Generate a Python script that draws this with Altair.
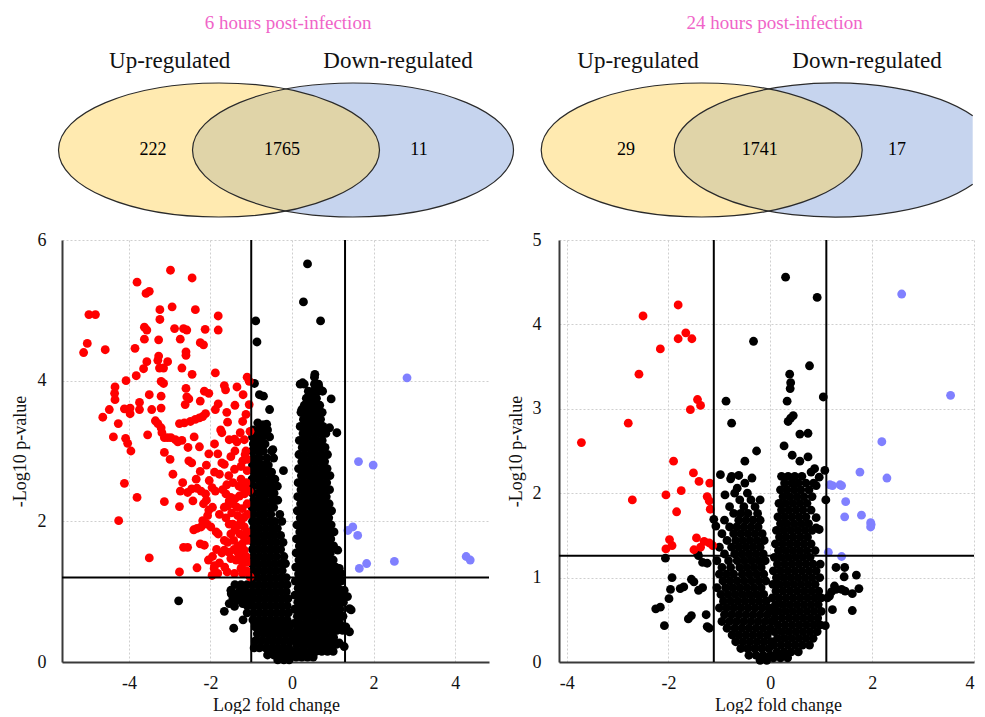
import altair as alt
import pandas as pd

FONT = "Liberation Serif"

# ---------------- Venn diagram values ----------------
TIME_TITLES = ["6 hours post-infection", "24 hours post-infection"]
SET_NAMES = ["Up-regulated", "Down-regulated"]
COUNTS_6H = ["222", "1765", "11"]      # up only, shared, down only
COUNTS_24H = ["29", "1741", "17"]

# ---------------- Volcano values: (log2 fold change, -log10 p) ----------------
RED_6H = [
    (-2.98, 5.57), (-2.45, 5.46), (-3.80, 5.40), (-3.58, 5.24), (-3.50, 5.27),
    (-4.98, 4.94), (-4.82, 4.94), (-3.24, 5.01), (-2.94, 5.05), (-2.37, 5.01), (-3.24, 4.87), (-1.81, 4.92),
    (-3.62, 4.76), (-3.56, 4.72), (-2.88, 4.74), (-2.66, 4.74), (-2.58, 4.72), (-2.13, 4.73), (-1.81, 4.72),
    (-5.02, 4.53), (-5.11, 4.40), (-4.58, 4.44), (-3.85, 4.46), (-3.62, 4.59), (-3.27, 4.58), (-2.74, 4.59),
    (-2.25, 4.54), (-2.17, 4.51), (-2.60, 4.41), (-2.60, 4.36), (-3.27, 4.35), (-3.29, 4.29), (-3.56, 4.27),
    (-3.05, 4.27), (-3.25, 4.18), (-3.15, 4.18), (-3.64, 4.17), (-2.70, 4.18), (-2.45, 4.09), (-1.88, 4.11),
    (-3.82, 4.07), (-4.07, 4.00), (-3.21, 3.99), (-3.15, 3.96), (-1.10, 4.05), (-1.05, 3.99),
    (-4.34, 3.91), (-4.35, 3.82), (-4.34, 3.73), (-2.60, 3.89), (-1.66, 3.93), (-1.63, 3.87), (-1.35, 3.91),
    (-2.15, 3.85), (-2.04, 3.82), (-3.50, 3.80), (-3.21, 3.78), (-2.58, 3.77), (-2.53, 3.74), (-3.74, 3.69),
    (-2.25, 3.71), (-1.81, 3.67), (-1.05, 3.66), (-4.48, 3.59), (-4.11, 3.60), (-3.97, 3.61), (-3.97, 3.53),
    (-3.74, 3.59), (-3.44, 3.59), (-3.21, 3.61), (-2.62, 3.66), (-1.88, 3.59),
    (-2.12, 3.53), (-2.19, 3.49), (-2.27, 3.47), (-2.37, 3.45), (-2.49, 3.42), (-2.64, 3.40), (-2.76, 3.39),
    (-1.13, 3.52), (-4.64, 3.48), (-4.26, 3.39), (-3.35, 3.43), (-3.29, 3.39), (-3.21, 3.33), (-1.58, 3.41),
    (-1.21, 3.42), (-1.03, 3.28), (-4.38, 3.20), (-4.08, 3.18), (-4.03, 3.11), (-3.95, 3.00), (-3.54, 3.23),
    (-3.19, 3.26), (-3.13, 3.19), (-3.05, 3.19), (-2.97, 3.19), (-2.86, 3.16), (-2.80, 3.13), (-2.70, 3.15),
    (-1.72, 3.26), (-1.54, 3.16), (-1.41, 3.17), (-1.35, 3.13), (-1.27, 3.26), (-1.17, 3.16),
    (-3.13, 2.98), (-2.99, 2.88), (-2.53, 2.86), (-2.46, 2.83), (-2.04, 2.96), (-1.82, 2.96), (-2.27, 3.06),
    (-1.72, 2.83), (-1.66, 2.81), (-1.13, 3.00), (-1.21, 2.86), (-1.10, 2.88),
    (-2.92, 2.67), (-2.68, 2.55), (-2.35, 2.60), (-2.25, 2.71), (-2.03, 2.58), (-1.78, 2.67), (-1.41, 2.74), (-1.10, 2.72),
    (-4.11, 2.54), (-2.74, 2.43), (-2.56, 2.41), (-2.46, 2.46), (-2.43, 2.29), (-2.33, 2.47), (-2.23, 2.43), (-2.12, 2.39),
    (-1.96, 2.48), (-1.88, 2.43), (-1.62, 2.39), (-1.50, 2.34), (-1.54, 2.29), (-1.40, 2.32), (-1.29, 2.36),
    (-1.23, 2.48), (-1.13, 2.46), (-1.17, 2.39), (-1.05, 2.43),
    (-3.80, 2.34), (-3.13, 2.28), (-2.76, 2.21), (-2.17, 2.25), (-2.04, 2.16), (-1.78, 2.10),
    (-1.66, 2.20), (-1.58, 2.22), (-1.45, 2.25), (-1.33, 2.08), (-1.17, 2.06), (-1.09, 2.10),
    (-4.25, 2.01), (-2.07, 2.08), (-2.19, 2.01), (-2.08, 1.96), (-1.99, 1.92), (-1.86, 1.85), (-1.81, 1.82),
    (-2.41, 1.88), (-2.33, 1.90), (-2.23, 1.92), (-1.54, 1.96), (-1.45, 1.96), (-1.33, 1.94), (-1.17, 1.92),
    (-1.66, 1.73), (-1.58, 1.70), (-1.43, 1.73), (-2.25, 1.68), (-2.15, 1.66), (-1.17, 1.77), (-1.09, 1.73),
    (-2.66, 1.63), (-2.56, 1.63), (-3.50, 1.48), (-1.66, 1.59), (-1.54, 1.56), (-1.33, 1.56), (-1.17, 1.59),
    (-1.78, 1.41), (-1.50, 1.47), (-1.37, 1.45), (-1.21, 1.40), (-1.09, 1.42), (-2.33, 1.34), (-1.90, 1.37),
    (-1.91, 1.33), (-2.76, 1.28), (-1.96, 1.23), (-1.82, 1.26), (-1.59, 1.28), (-1.41, 1.26), (-1.21, 1.26),
    (-1.03, 1.21),
    (-1.25, 2.60), (-1.12, 2.55), (-1.30, 2.50), (-1.45, 2.55), (-1.60, 2.52), (-1.70, 2.45), (-1.35, 2.20),
    (-1.22, 2.18), (-1.10, 2.25), (-1.48, 2.12), (-1.62, 2.05), (-1.25, 2.00), (-1.40, 1.88), (-1.28, 1.82),
    (-1.10, 1.85), (-1.50, 1.82), (-1.22, 1.68), (-1.32, 1.65), (-1.12, 1.50), (-1.25, 1.48), (-1.42, 1.60),
    (-1.72, 1.55), (-1.85, 1.60), (-1.95, 1.50), (-2.05, 1.45), (-1.65, 1.35), (-1.25, 1.33), (-1.12, 1.30),
    (-1.55, 2.65), (-1.90, 2.70), (-2.10, 2.80), (-1.25, 2.78), (-1.15, 2.95), (-1.40, 3.00), (-1.50, 2.92),
    (-1.90, 3.10), (-2.40, 3.20), (-2.55, 3.05), (-1.60, 3.55), (-1.40, 3.65), (-1.20, 3.80), (-1.75, 3.30),
    (-2.10, 2.30), (-1.95, 2.20),
]

BLUE_6H = [
    (1.37, 1.87), (1.49, 1.92), (1.61, 1.80), (1.63, 2.85), (1.99, 2.80), (1.65, 1.33),
    (1.83, 1.40), (2.51, 1.43), (2.82, 4.04), (4.27, 1.50), (4.37, 1.45),
]

BLACK_6H = [
    (0.38, 5.66), (0.28, 5.12), (0.70, 4.85), (-0.89, 4.85), (-0.86, 4.55), (-0.92, 3.96), (-0.80, 3.80),
    (-0.70, 3.78), (-0.55, 3.59), (-0.72, 3.37), (-0.62, 3.38), (-0.66, 3.24), (-0.21, 2.72), (-2.78, 0.87),
    (-1.66, 0.72), (-1.43, 0.48), (-1.49, 0.97), (-1.25, 1.01), (1.45, 0.74), (1.41, 0.43), (1.10, 3.26),
    (0.96, 3.74), (0.67, 3.89), (0.24, 3.59), (0.56, 4.09), (0.26, 3.97), (0.92, 3.33), (1.12, 1.59),
    (1.16, 1.33), (1.20, 1.26), (1.28, 1.02), (1.36, 0.93), (1.41, 0.76), (1.32, 0.50), (1.16, 0.27),
    (1.28, 0.22), (-1.50, 1.02), (-1.41, 0.93), (-1.33, 0.97), (-1.21, 1.02), (-1.13, 1.00), (-1.17, 0.93),
    (-1.05, 0.95), (-1.33, 0.88), (-1.54, 0.83), (-1.41, 0.79), (-1.21, 0.83), (-1.09, 0.88), (-1.20, 0.60),
    (-1.10, 0.70), (-0.84, 3.40), (-0.68, 3.37), (-0.76, 3.24), (-0.64, 3.26), (-0.92, 3.09), (-0.72, 3.00),
    (-0.47, 3.02),
]

# dense body of the 6 h volcano: rows of (-log10 p, [log2 fold changes])
BLACK_6H_ROWS = [
    (3.30, [-0.95, -0.80, -0.60]),
    (3.20, [-0.97, -0.85, -0.72, -0.55]),
    (3.10, [-0.95, -0.80, -0.66]),
    (3.00, [-0.98, -0.84, -0.70, -0.50]),
    (2.90, [-0.94, -0.80, -0.62, -0.45]),
    (2.80, [-0.97, -0.85, -0.72, -0.58]),
    (2.70, [-0.93, -0.78, -0.64, -0.50]),
    (2.60, [-0.98, -0.84, -0.70, -0.55, -0.42]),
    (2.50, [-0.95, -0.80, -0.66, -0.52, -0.36]),
    (2.40, [-0.97, -0.83, -0.70, -0.57, -0.44]),
    (2.30, [-0.94, -0.80, -0.66, -0.50, -0.35]),
    (2.20, [-0.98, -0.85, -0.71, -0.58, -0.45]),
    (2.10, [-0.95, -0.80, -0.67, -0.52, -0.30]),
    (2.00, [-0.97, -0.84, -0.70, -0.56, -0.42, -0.25]),
    (1.90, [-0.94, -0.80, -0.65, -0.50, -0.36]),
    (1.80, [-0.98, -0.85, -0.71, -0.57, -0.43, -0.28]),
    (1.70, [-0.95, -0.81, -0.67, -0.52, -0.38, -0.22]),
    (1.60, [-0.97, -0.84, -0.70, -0.56, -0.42, -0.28]),
    (1.50, [-0.94, -0.80, -0.66, -0.52, -0.38, -0.20]),
    (1.40, [-0.98, -0.85, -0.71, -0.57, -0.43, -0.29, -0.16]),
    (1.30, [-0.95, -0.81, -0.67, -0.53, -0.39, -0.24]),
    (1.20, [-0.97, -0.84, -0.70, -0.56, -0.42, -0.28, -0.14]),
    (1.10, [-1.40, -1.25, -1.10, -0.95, -0.81, -0.67, -0.53, -0.39, -0.25, -0.12]),
    (1.00, [-1.30, -1.15, -0.98, -0.84, -0.70, -0.56, -0.42, -0.28, -0.14]),
    (0.90, [-1.45, -1.20, -1.05, -0.93, -0.79, -0.65, -0.51, -0.37, -0.23, -0.10]),
    (0.80, [-1.10, -0.96, -0.82, -0.68, -0.54, -0.40, -0.26, -0.12]),
    (0.70, [-0.93, -0.79, -0.65, -0.51, -0.37, -0.23, -0.09]),
    (0.60, [-0.96, -0.82, -0.68, -0.54, -0.40, -0.26, -0.12]),
    (0.50, [-0.90, -0.76, -0.62, -0.48, -0.34, -0.20, -0.06]),
    (0.40, [-0.85, -0.70, -0.56, -0.42, -0.28, -0.14, 0.00]),
    (0.30, [-0.90, -0.75, -0.60, -0.46, -0.32, -0.18, -0.04]),
    (0.20, [-0.93, -0.80, -0.65, -0.50, -0.36, -0.22, -0.08]),
    (0.10, [-0.60, -0.45, -0.30, -0.16, -0.02]),
    (0.03, [-0.35, -0.20, -0.07]),
    (4.05, [0.55]),
    (3.95, [0.20, 0.30, 0.55, 0.65]),
    (3.85, [0.40, 0.52, 0.64, 0.75]),
    (3.75, [0.35, 0.48, 0.60]),
    (3.65, [0.30, 0.42, 0.55, 0.68]),
    (3.55, [0.22, 0.36, 0.50, 0.62, 0.74]),
    (3.45, [0.28, 0.42, 0.56, 0.70]),
    (3.35, [0.20, 0.34, 0.48, 0.62, 0.76]),
    (3.25, [0.27, 0.41, 0.55, 0.69, 0.83]),
    (3.15, [0.18, 0.32, 0.46, 0.60, 0.74]),
    (3.05, [0.25, 0.39, 0.53, 0.67, 0.81]),
    (2.95, [0.17, 0.31, 0.45, 0.59, 0.73, 0.87]),
    (2.85, [0.24, 0.38, 0.52, 0.66, 0.80]),
    (2.75, [0.16, 0.30, 0.44, 0.58, 0.72, 0.86]),
    (2.65, [0.23, 0.37, 0.51, 0.65, 0.79, 0.93]),
    (2.55, [0.15, 0.29, 0.43, 0.57, 0.71, 0.85]),
    (2.45, [0.22, 0.36, 0.50, 0.64, 0.78, 0.92]),
    (2.35, [0.14, 0.28, 0.42, 0.56, 0.70, 0.84]),
    (2.25, [0.21, 0.35, 0.49, 0.63, 0.77, 0.91]),
    (2.15, [0.13, 0.27, 0.41, 0.55, 0.69, 0.83, 0.97]),
    (2.05, [0.20, 0.34, 0.48, 0.62, 0.76, 0.90]),
    (1.95, [0.12, 0.26, 0.40, 0.54, 0.68, 0.82, 0.96]),
    (1.85, [0.19, 0.33, 0.47, 0.61, 0.75, 0.89, 1.03]),
    (1.75, [0.11, 0.25, 0.39, 0.53, 0.67, 0.81, 0.95]),
    (1.65, [0.18, 0.32, 0.46, 0.60, 0.74, 0.88, 1.02]),
    (1.55, [0.10, 0.24, 0.38, 0.52, 0.66, 0.80, 0.94]),
    (1.45, [0.17, 0.31, 0.45, 0.59, 0.73, 0.87, 1.01]),
    (1.35, [0.09, 0.23, 0.37, 0.51, 0.65, 0.79, 0.93, 1.07]),
    (1.25, [0.16, 0.30, 0.44, 0.58, 0.72, 0.86, 1.00, 1.14]),
    (1.15, [0.08, 0.22, 0.36, 0.50, 0.64, 0.78, 0.92, 1.06, 1.20]),
    (1.05, [0.15, 0.29, 0.43, 0.57, 0.71, 0.85, 0.99, 1.13]),
    (0.95, [0.07, 0.21, 0.35, 0.49, 0.63, 0.77, 0.91, 1.05, 1.19]),
    (0.85, [0.14, 0.28, 0.42, 0.56, 0.70, 0.84, 0.98, 1.12, 1.26]),
    (0.75, [0.06, 0.20, 0.34, 0.48, 0.62, 0.76, 0.90, 1.04, 1.18]),
    (0.65, [0.13, 0.27, 0.41, 0.55, 0.69, 0.83, 0.97, 1.11, 1.25]),
    (0.55, [0.05, 0.19, 0.33, 0.47, 0.61, 0.75, 0.89, 1.03, 1.17]),
    (0.45, [0.12, 0.26, 0.40, 0.54, 0.68, 0.82, 0.96, 1.10, 1.24]),
    (0.35, [0.04, 0.18, 0.32, 0.46, 0.60, 0.74, 0.88, 1.02]),
    (0.25, [0.11, 0.25, 0.39, 0.53, 0.67, 0.81, 0.95, 1.09]),
    (0.15, [0.03, 0.17, 0.31, 0.45, 0.59, 0.73, 0.87, 1.01]),
    (0.07, [0.10, 0.24, 0.38, 0.52]),
]

RED_24H = [
    (-3.71, 2.60), (-2.79, 2.83), (-2.71, 1.92), (-2.58, 3.41), (-2.50, 4.10), (-2.16, 3.71), (-1.81, 4.23),
    (-1.81, 3.83), (-1.66, 3.90), (-1.54, 3.83), (-1.57, 2.99), (-1.43, 3.11), (-1.37, 3.04), (-1.90, 2.38),
    (-1.51, 2.24), (-1.40, 2.14), (-1.75, 2.03), (-2.05, 1.98), (-1.84, 1.78), (-1.19, 2.12), (-1.24, 1.96),
    (-1.20, 1.91), (-1.18, 1.81), (-1.98, 1.45), (-1.93, 1.38), (-2.05, 1.34), (-1.45, 1.47), (-1.50, 1.33),
    (-1.37, 1.36), (-1.30, 1.43), (-1.20, 1.41), (-1.13, 1.38),
]

BLUE_24H = [
    (2.58, 4.36), (3.54, 3.16), (2.19, 2.61), (1.76, 2.25), (2.29, 2.18), (1.17, 2.10), (1.37, 2.10),
    (1.40, 2.09), (1.48, 1.90), (1.46, 1.72), (1.79, 1.74), (1.97, 1.65), (1.97, 1.60), (1.14, 1.30),
    (1.40, 1.25), (1.22, 2.09), (1.98, 1.63),
]

BLACK_24H = [
    (0.30, 4.56), (0.92, 4.32), (-0.33, 3.80), (0.77, 3.51), (0.38, 3.41), (0.40, 3.31), (0.39, 3.24),
    (0.33, 3.09), (1.04, 3.14), (-0.87, 3.09), (-0.76, 2.83), (0.35, 2.85), (0.40, 2.89), (0.45, 2.92),
    (0.58, 2.70), (0.74, 2.71), (0.27, 2.56), (-0.27, 2.50), (-0.50, 2.38), (0.43, 2.45), (0.58, 2.38),
    (0.74, 2.43), (-0.98, 2.22), (-0.76, 2.20), (-0.62, 2.21), (-0.78, 2.17), (-0.36, 2.18), (-0.50, 2.12),
    (-0.89, 1.98), (-0.65, 2.06), (1.07, 2.27), (0.96, 2.19), (0.90, 2.09), (0.80, 2.25), (0.87, 2.29),
    (1.09, 1.92), (0.90, 1.71), (0.90, 1.59), (0.96, 1.57), (-1.11, 1.69), (-1.07, 1.61),
    (-2.06, 1.23), (-1.93, 1.00), (-1.96, 0.86), (-1.99, 0.75), (-2.08, 0.43), (-2.25, 0.63), (-2.16, 0.65),
    (-1.77, 0.87), (-1.70, 0.89), (-1.55, 0.98), (-1.50, 0.95), (-1.61, 0.51), (-1.55, 0.55), (-1.41, 0.85),
    (-1.33, 0.88), (-1.26, 0.56), (-1.43, 1.29), (-1.41, 1.26), (-1.33, 1.18), (-1.24, 1.17), (-1.24, 0.42),
    (-1.20, 0.40), (1.29, 1.12), (1.46, 1.12), (1.69, 1.03), (1.45, 1.01), (1.26, 0.90), (1.20, 0.83),
    (1.29, 0.86), (1.40, 0.86), (1.47, 0.84), (1.74, 0.87), (1.61, 0.81), (1.16, 0.78), (1.22, 0.62),
    (1.61, 0.61), (1.08, 0.43), (1.12, 0.76),
]

BLACK_24H_ROWS = [
    (2.00, [-0.70, -0.45]),
    (1.92, [-0.60, -0.38, -0.20]),
    (1.84, [-0.80, -0.52, -0.30]),
    (1.76, [-0.72, -0.58, -0.44, -0.25]),
    (1.68, [-0.90, -0.62, -0.48, -0.34, -0.20]),
    (1.60, [-0.80, -0.66, -0.52, -0.38, -0.24]),
    (1.52, [-0.95, -0.72, -0.58, -0.44, -0.30, -0.16]),
    (1.44, [-0.85, -0.68, -0.54, -0.40, -0.26, -0.12]),
    (1.36, [-1.00, -0.76, -0.62, -0.48, -0.34, -0.20]),
    (1.28, [-0.90, -0.70, -0.56, -0.42, -0.28, -0.14]),
    (1.20, [-1.05, -0.82, -0.65, -0.51, -0.37, -0.23, -0.10]),
    (1.12, [-0.95, -0.78, -0.60, -0.46, -0.32, -0.18]),
    (1.04, [-1.00, -0.86, -0.72, -0.55, -0.41, -0.27, -0.13]),
    (0.96, [-0.93, -0.79, -0.65, -0.51, -0.37, -0.23, -0.09]),
    (0.88, [-1.05, -0.88, -0.74, -0.60, -0.46, -0.32, -0.18]),
    (0.80, [-0.97, -0.83, -0.69, -0.55, -0.41, -0.27, -0.13]),
    (0.72, [-0.92, -0.78, -0.64, -0.50, -0.36, -0.22, -0.08]),
    (0.64, [-1.00, -0.86, -0.72, -0.58, -0.44, -0.30, -0.16, -0.03]),
    (0.56, [-0.90, -0.76, -0.62, -0.48, -0.34, -0.20, -0.06]),
    (0.48, [-0.95, -0.80, -0.66, -0.52, -0.38, -0.24, -0.10, 0.03]),
    (0.40, [-0.85, -0.70, -0.56, -0.42, -0.28, -0.14, 0.00]),
    (0.32, [-0.75, -0.62, -0.48, -0.34, -0.20, -0.06]),
    (0.24, [-0.68, -0.54, -0.40, -0.26, -0.12, 0.02]),
    (0.16, [-0.58, -0.45, -0.31, -0.17, -0.03]),
    (0.08, [-0.42, -0.28, -0.14, 0.00]),
    (0.02, [-0.20, -0.07]),
    (2.20, [0.22, 0.35, 0.48, 0.62]),
    (2.12, [0.28, 0.42, 0.55, 0.70, 0.85]),
    (2.04, [0.20, 0.33, 0.47, 0.60, 0.76]),
    (1.96, [0.25, 0.38, 0.52, 0.66, 0.82]),
    (1.88, [0.17, 0.30, 0.44, 0.58, 0.72]),
    (1.80, [0.22, 0.36, 0.50, 0.64, 0.80]),
    (1.72, [0.15, 0.28, 0.42, 0.56, 0.70]),
    (1.64, [0.20, 0.33, 0.47, 0.61, 0.75]),
    (1.56, [0.12, 0.26, 0.40, 0.54, 0.68, 0.82]),
    (1.48, [0.18, 0.31, 0.45, 0.59, 0.73]),
    (1.40, [0.10, 0.24, 0.38, 0.52, 0.66, 0.80]),
    (1.32, [0.16, 0.30, 0.44, 0.58, 0.72, 0.88]),
    (1.24, [0.08, 0.22, 0.36, 0.50, 0.64, 0.78]),
    (1.16, [0.14, 0.28, 0.42, 0.56, 0.70, 0.84, 0.98]),
    (1.08, [0.06, 0.20, 0.34, 0.48, 0.62, 0.76, 0.90]),
    (1.00, [0.12, 0.26, 0.40, 0.54, 0.68, 0.82, 0.97]),
    (0.92, [0.05, 0.18, 0.32, 0.46, 0.60, 0.74, 0.88]),
    (0.84, [0.11, 0.25, 0.39, 0.53, 0.67, 0.81, 0.95]),
    (0.76, [0.04, 0.17, 0.31, 0.45, 0.59, 0.73, 0.87, 1.00]),
    (0.68, [0.10, 0.24, 0.38, 0.52, 0.66, 0.80, 0.94]),
    (0.60, [0.03, 0.16, 0.30, 0.44, 0.58, 0.72, 0.86, 1.00]),
    (0.52, [0.09, 0.23, 0.37, 0.51, 0.65, 0.79, 0.93]),
    (0.44, [0.15, 0.29, 0.43, 0.57, 0.71, 0.85, 0.98]),
    (0.36, [0.08, 0.22, 0.36, 0.50, 0.64, 0.78, 0.92]),
    (0.28, [0.14, 0.28, 0.42, 0.56, 0.70, 0.84]),
    (0.20, [0.07, 0.21, 0.35, 0.49, 0.63, 0.77]),
    (0.12, [0.13, 0.27, 0.41, 0.55]),
    (0.05, [0.06, 0.20, 0.34]),
]

THRESH_6H = {"lfc": [-1.0, 1.3], "p": 1.2}
THRESH_24H = {"lfc": [-1.11, 1.10], "p": 1.26}

# ---------------- colours / styling ----------------
C_RED, C_BLACK, C_BLUE = "#ff0000", "#000000", "#8080ff"
C_YELLOW, C_VBLUE, C_LENS = "#ffeab0", "#c6d4ee", "#e0d4a8"
C_TITLE = "#f064c8"

# ---------------- layout (page pixels) ----------------
PAD_L, PAD_T = 3, 2
VL, VT = 64, 8 + PAD_T          # Venn view shares its origin with the first volcano plot
VR, VB = 976, 226               # keep the whole figure inside the page width
SYM_R = 60.0                    # symbol unit radius (px); shape paths are drawn in these units
SYM_SIZE = (2 * SYM_R) ** 2
ELLIPSE = "M -2.675 0 A 2.675 1.1167 0 1 1 2.675 0 A 2.675 1.1167 0 1 1 -2.675 0 Z"
LENS = "M 0 -1.015 A 2.675 1.1167 0 0 1 0 1.015 A 2.675 1.1167 0 0 1 0 -1.015 Z"
# right-most ellipse runs off the page edge: draw it cut at the edge
CUT_FILL = "M 2.3 -0.5702 A 2.675 1.1167 0 1 0 2.3 0.5702 Z"
CUT_LINE = "M 2.3 -0.5702 A 2.675 1.1167 0 1 0 2.3 0.5702"
VENN_POS = [
    dict(yc=221, bc=355, lens=288, title=290, up=171.7, down=400, nums=[155, 284, 421]),
    dict(yc=703.7, bc=836.7, lens=770.2, title=776.7, up=640, down=869, nums=[628, 761.7, 899]),
]
ELL_Y, TITLE_Y, SET_Y, NUM_Y = 150, 23, 61, 150

# ---------------- Venn chart ----------------
fills, lines, lenses, texts, nums = [], [], [], [], []
for i, (pos, title, counts) in enumerate(zip(VENN_POS, TIME_TITLES, [COUNTS_6H, COUNTS_24H])):
    last = i == len(VENN_POS) - 1
    fills.append(dict(cx=pos["yc"], cy=ELL_Y, fill=C_YELLOW, shape=ELLIPSE))
    fills.append(dict(cx=pos["bc"], cy=ELL_Y, fill=C_VBLUE, shape=CUT_FILL if last else ELLIPSE))
    lines.append(dict(cx=pos["yc"], cy=ELL_Y, shape=ELLIPSE))
    lines.append(dict(cx=pos["bc"], cy=ELL_Y, shape=CUT_LINE if last else ELLIPSE))
    lenses.append(dict(cx=pos["lens"], cy=ELL_Y, fill=C_LENS, shape=LENS))
    texts.append(dict(x=pos["title"], y=TITLE_Y, t=title, fs=19, col=C_TITLE))
    texts.append(dict(x=pos["up"], y=SET_Y, t=SET_NAMES[0], fs=23, col="#111111"))
    texts.append(dict(x=pos["down"], y=SET_Y, t=SET_NAMES[1], fs=23, col="#111111"))
    for nx, c in zip(pos["nums"], counts):
        nums.append(dict(x=nx, y=NUM_Y, t=c))

fill_df = pd.DataFrame(fills + lenses)
line_df = pd.DataFrame(lines)
text_df = pd.DataFrame(texts)
num_df = pd.DataFrame(nums)

vxs = alt.Scale(domain=[VL, VR], nice=False, zero=False)
vys = alt.Scale(domain=[VT, VB], nice=False, zero=False, reverse=True)

ell_fill = alt.Chart(fill_df).mark_point(
    filled=True, size=SYM_SIZE, opacity=1, strokeWidth=0
).encode(
    x=alt.X("cx:Q", scale=vxs, axis=None),
    y=alt.Y("cy:Q", scale=vys, axis=None),
    color=alt.Color("fill:N", scale=None),
    shape=alt.Shape("shape:N", scale=None),
)
ell_line = alt.Chart(line_df).mark_point(
    filled=False, size=SYM_SIZE, opacity=1, strokeWidth=1.2, color="#2a2a2a"
).encode(
    x=alt.X("cx:Q", scale=vxs, axis=None),
    y=alt.Y("cy:Q", scale=vys, axis=None),
    shape=alt.Shape("shape:N", scale=None),
)
venn_text = alt.Chart(text_df).mark_text(font=FONT, align="center", baseline="middle").encode(
    x=alt.X("x:Q", scale=vxs, axis=None),
    y=alt.Y("y:Q", scale=vys, axis=None),
    text="t:N",
    size=alt.Size("fs:Q", scale=None),
    color=alt.Color("col:N", scale=None),
)
venn_nums = alt.Chart(num_df).mark_text(
    font=FONT, align="center", baseline="middle", fontSize=18, color="#000000"
).encode(
    x=alt.X("x:Q", scale=vxs, axis=None),
    y=alt.Y("y:Q", scale=vys, axis=None),
    text="t:N",
)
venn = alt.layer(ell_fill, ell_line, venn_text, venn_nums).properties(width=VR - VL, height=VB - VT)


# ---------------- Volcano charts ----------------
def build_df(black, black_rows, red, blue):
    rows = [dict(lfc=x, nlp=y, col=C_BLACK) for x, y in black]
    for y, xs in black_rows:
        rows += [dict(lfc=x, nlp=y, col=C_BLACK) for x in xs]
    rows += [dict(lfc=x, nlp=y, col=C_RED) for x, y in red]
    rows += [dict(lfc=x, nlp=y, col=C_BLUE) for x, y in blue]
    return pd.DataFrame(rows)


def volcano(df, xdom, ydom, xvals, yvals, thr, w, h, ylabpad, ytitlepad, xtitle_x):
    xsc = alt.Scale(domain=xdom, nice=False, zero=False)
    ysc = alt.Scale(domain=ydom, nice=False, zero=False)
    common = dict(
        grid=True, gridColor="#cfcfcf", gridDash=[2, 2], gridWidth=1,
        ticks=False, tickSize=0, domainColor="#3a3a3a", domainWidth=2,
        labelFont=FONT, labelFontSize=18, labelColor="#111111",
        titleFont=FONT, titleFontSize=18, titleFontWeight="normal", titleColor="#111111",
        labelExpr="'' + datum.value",
    )
    xaxis = alt.Axis(values=xvals, title="Log2 fold change", labelPadding=12, titlePadding=4,
                     titleX=xtitle_x, labelFlush=True, **common)
    yaxis = alt.Axis(values=yvals, title="-Log10 p-value", labelPadding=ylabpad, titlePadding=ytitlepad,
                     **common)
    pts = alt.Chart(df).mark_circle(size=78, opacity=1).encode(
        x=alt.X("lfc:Q", scale=xsc, axis=xaxis),
        y=alt.Y("nlp:Q", scale=ysc, axis=yaxis),
        color=alt.Color("col:N", scale=None),
    )
    vr = alt.Chart(pd.DataFrame({"lfc": thr["lfc"]})).mark_rule(color="black", strokeWidth=2).encode(
        x=alt.X("lfc:Q", scale=xsc, axis=xaxis)
    )
    hr = alt.Chart(pd.DataFrame({"nlp": [thr["p"]]})).mark_rule(color="black", strokeWidth=2).encode(
        y=alt.Y("nlp:Q", scale=ysc, axis=yaxis)
    )
    return alt.layer(pts, vr, hr).properties(width=w, height=h)


df6 = build_df(BLACK_6H, BLACK_6H_ROWS, RED_6H, BLUE_6H)
df24 = build_df(BLACK_24H, BLACK_24H_ROWS, RED_24H, BLUE_24H)

v6 = volcano(df6, [-5.64, 4.83], [0, 6], [-4, -2, 0, 2, 4], [0, 2, 4, 6], THRESH_6H,
             427, 422, 16, 8, 214)
v24 = volcano(df24, [-4.15, 4.0], [0, 5], [-4, -2, 0, 2, 4], [0, 1, 2, 3, 4, 5], THRESH_24H,
              VR - 561, 422, 18, 7, 219)

bottom = alt.hconcat(v6, v24, spacing=70, bounds="flush")
chart = alt.vconcat(venn, bottom, spacing=5).properties(
    padding={"left": PAD_L, "top": PAD_T, "right": 0, "bottom": 0}
).configure_view(stroke=None)

chart.save("out.html", embed_options={"renderer": "svg", "actions": False})
